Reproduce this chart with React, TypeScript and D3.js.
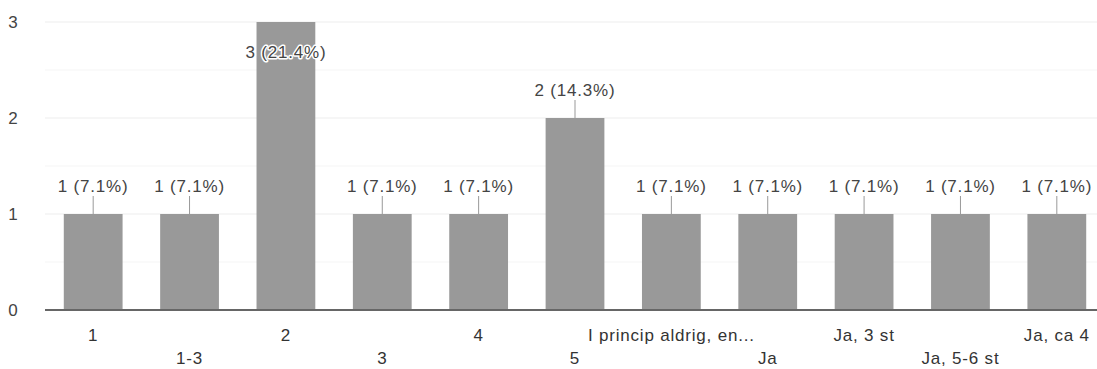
import React from "react";
import * as d3 from "d3";

const categories = ["1", "1-3", "2", "3", "4", "5", "I princip aldrig, en...", "Ja", "Ja, 3 st", "Ja, 5-6 st", "Ja, ca 4"];
const counts = [1, 1, 3, 1, 1, 2, 1, 1, 1, 1, 1];
const total = 14;
const yTicks = [0, 1, 2, 3];

const W = 1097;
const H = 369;
const FONT = "'Liberation Sans', Arial, sans-serif";
const FS = 17;
const LS = 0.8;

export default function App() {
  const x = d3.scaleBand<string>().domain(categories).range([45, 1105]).paddingInner(0.39).paddingOuter(0.195);
  const y = d3.scaleLinear().domain([0, 3]).range([310, 22]);
  const halfTicks = d3.range(0.5, 3, 1);

  const label = (v: number) => `${v} (${((v / total) * 100).toFixed(1)}%)`;

  return (
    <svg width={W} height={H} style={{ position: "absolute", left: 0, top: 0, background: "#fff" }} fontFamily={FONT}>
      <defs>
        <clipPath id="plot">
          <rect x={45} y={0} width={W - 45} height={H} />
        </clipPath>
      </defs>
      <g clipPath="url(#plot)">
        {halfTicks.map((t) => (
          <line key={"h" + t} x1={45} x2={W} y1={y(t)} y2={y(t)} stroke="#f5f5f5" strokeWidth={1} />
        ))}
        {yTicks.slice(1).map((t) => (
          <line key={"g" + t} x1={45} x2={W} y1={y(t)} y2={y(t)} stroke="#ededed" strokeWidth={1} />
        ))}
      </g>
      {yTicks.map((t) => (
        <text key={"y" + t} x={13} y={y(t)} dy="0.35em" textAnchor="middle" fontSize={FS} fill="#444">
          {t}
        </text>
      ))}
      {categories.map((c, i) => {
        const v = counts[i];
        const bx = x(c)!;
        const bw = x.bandwidth();
        const cx = bx + bw / 2;
        const top = y(v);
        const inside = v === 3;
        return (
          <g key={c}>
            <rect x={bx} y={top} width={bw} height={y(0) - top} fill="#999999" />
            {!inside && <line x1={cx} x2={cx} y1={top} y2={top - 18} stroke="#999" strokeWidth={1} />}
            <text
              x={cx}
              y={inside ? top + 36 : top - 22}
              textAnchor="middle"
              fontSize={FS}
              letterSpacing={LS}
              fill="#444"
              stroke="#fff"
              strokeWidth={3}
              paintOrder="stroke"
              strokeLinejoin="round"
            >
              {label(v)}
            </text>
            <text x={cx} y={i % 2 === 0 ? 341 : 364} textAnchor="middle" fontSize={FS} letterSpacing={LS} fill="#333">
              {c}
            </text>
          </g>
        );
      })}
      <line x1={45} x2={W} y1={y(0)} y2={y(0)} stroke="#666" strokeWidth={2} />
    </svg>
  );
}
